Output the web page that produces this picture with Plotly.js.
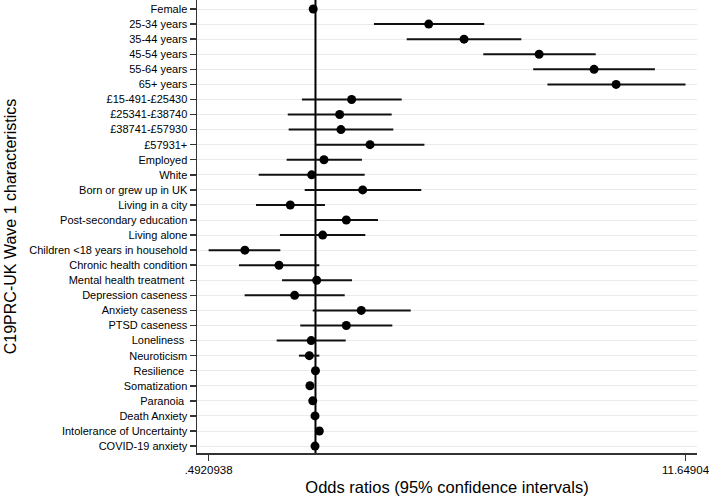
<!DOCTYPE html>
<html>
<head>
<meta charset="utf-8">
<script src="https://cdn.plot.ly/plotly-3.0.1.min.js"></script>
<style>
  html, body { margin: 0; padding: 0; background: #fff; }
  #chart { width: 709px; height: 498px; }
</style>
</head>
<body>
<div id="chart"></div>
<script>
// characteristics, top to bottom
const labels = [
  "Female", "25-34 years", "35-44 years", "45-54 years", "55-64 years", "65+ years",
  "£15-491-£25430", "£25341-£38740", "£38741-£57930", "£57931+",
  "Employed", "White", "Born or grew up in UK", "Living in a city",
  "Post-secondary education", "Living alone", "Children <18 years in household",
  "Chronic health condition", "Mental health treatment\u00a0", "Depression caseness",
  "Anxiety caseness", "PTSD caseness", "Loneliness\u00a0", "Neuroticism",
  "Resilience\u00a0", "Somatization", "Paranoia\u00a0", "Death Anxiety",
  "Intolerance of Uncertainty", "COVID-19 anxiety"
];

// odds ratios and 95% CI
const oddsRatio = [
  0.985, 2.12, 2.68, 4.41, 6.35, 7.35,
  1.271, 1.174, 1.184, 1.436,
  1.058, 0.975, 1.368, 0.846,
  1.227, 1.049, 0.626,
  0.785, 1.008, 0.871,
  1.355, 1.227, 0.972, 0.960,
  1.000, 0.964, 0.982, 0.997,
  1.026, 0.997
];
const ciLow = [
  0.96, 1.474, 1.832, 3.045, 4.24, 4.66,
  0.914, 0.832, 0.837, 1.001,
  0.826, 0.686, 0.931, 0.674,
  0.997, 0.790, 0.4920938,
  0.602, 0.801, 0.625,
  0.982, 0.904, 0.773, 0.896,
  0.99, 0.95, 0.97, 0.99,
  1.015, 0.99
];
const ciHigh = [
  1.01, 3.064, 3.92, 6.42, 9.51, 11.64904,
  1.772, 1.658, 1.676, 2.06,
  1.361, 1.386, 2.018, 1.065,
  1.514, 1.392, 0.792,
  1.026, 1.274, 1.214,
  1.881, 1.665, 1.222, 1.026,
  1.01, 0.98, 0.995, 1.005,
  1.04, 1.005
];

const xTicks = [0.4920938, 11.64904];
const xTickText = [".4920938", "11.64904"];
const nullOR = 1;
const yRange = [29.46, -0.6];

const rows = labels.map((_, i) => i);

// reference line at OR = 1, drawn first so the dots sit on top
const refLine = {
  type: "scatter",
  mode: "lines",
  x: [nullOR, nullOR],
  y: yRange,
  line: { color: "#000", width: 2 },
  hoverinfo: "skip",
  showlegend: false
};

const trace = {
  type: "scatter",
  mode: "markers",
  x: oddsRatio,
  y: rows,
  marker: { color: "#000", size: 9 },
  error_x: {
    type: "data",
    symmetric: false,
    array: oddsRatio.map((v, i) => ciHigh[i] - v),
    arrayminus: oddsRatio.map((v, i) => v - ciLow[i]),
    thickness: 2,
    width: 0,
    color: "#111"
  },
  hoverinfo: "x+y",
  showlegend: false
};

const font = "Liberation Sans, Arial, sans-serif";

const layout = {
  width: 709,
  height: 498,
  margin: { l: 197, r: 12, t: 0, b: 45 },
  paper_bgcolor: "#fff",
  plot_bgcolor: "#fff",
  font: { family: font, color: "#000", size: 11 },
  xaxis: {
    type: "log",
    range: [-0.3414, 1.0994],
    tickvals: xTicks,
    ticktext: xTickText,
    ticks: "outside",
    ticklen: 6,
    tickwidth: 1.5,
    tickcolor: "#333",
    showline: true,
    linecolor: "#333",
    linewidth: 1.5,
    showgrid: false,
    zeroline: false,
    ticklabeloverflow: "allow",
    tickfont: { size: 11.5, family: font },
    title: { text: "Odds ratios (95% confidence intervals)", font: { size: 16.5, family: font }, standoff: 6 }
  },
  yaxis: {
    range: yRange,
    tickvals: rows,
    ticktext: labels,
    ticks: "outside",
    ticklen: 6,
    tickwidth: 1.5,
    tickcolor: "#333",
    showline: true,
    linecolor: "#333",
    linewidth: 1.5,
    showgrid: true,
    gridcolor: "#ebebeb",
    gridwidth: 1,
    zeroline: false,
    tickfont: { size: 11, family: font },
    title: { text: "C19PRC-UK Wave 1 characteristics", font: { size: 16, family: font }, standoff: 8 }
  }
};

Plotly.newPlot("chart", [refLine, trace], layout, { displayModeBar: false, staticPlot: true });
</script>
</body>
</html>
